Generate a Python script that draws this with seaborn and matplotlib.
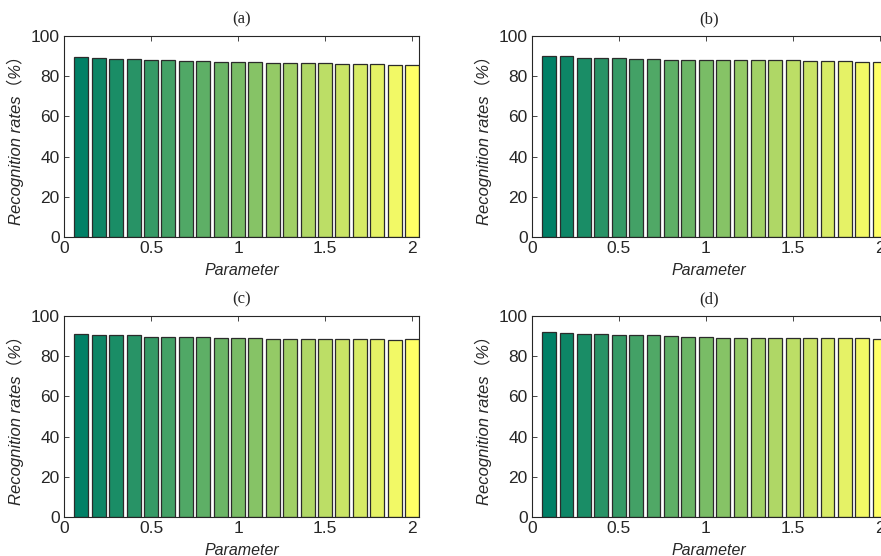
import numpy as np
import pandas as pd
import matplotlib
matplotlib.use("Agg")
import matplotlib.pyplot as plt
import seaborn as sns

params = [round(0.1 * i, 1) for i in range(1, 21)]
rates_a = [89.6, 89.1, 88.8, 88.6, 88.3, 88.3, 87.8, 87.6, 87.3, 87.3,
           87.1, 86.8, 86.8, 86.6, 86.4, 86.1, 86.1, 86.1, 85.8, 85.6]
rates_b = [90.2, 89.9, 89.3, 88.9, 88.9, 88.8, 88.4, 88.3, 88.3, 88.1,
           88.3, 88.3, 88.3, 88.3, 87.9, 87.8, 87.6, 87.6, 87.3, 87.3]
rates_c = [91.1, 90.7, 90.3, 90.3, 89.8, 89.8, 89.6, 89.4, 89.1, 89.3,
           88.9, 88.8, 88.8, 88.8, 88.6, 88.6, 88.6, 88.4, 88.3, 88.4]
rates_d = [91.9, 91.4, 91.2, 90.9, 90.6, 90.3, 90.3, 89.9, 89.8, 89.6,
           89.3, 89.3, 89.3, 89.3, 89.1, 88.9, 89.1, 88.9, 88.9, 88.8]
titles = ["(a)", "(b)", "(c)", "(d)"]
xticks = [0, 0.5, 1, 1.5, 2]
xticklabels = ["0", "0.5", "1", "1.5", "2"]
yticks = [0, 20, 40, 60, 80, 100]

sns.set_style("ticks")
plt.rcParams["font.family"] = ["Liberation Sans", "DejaVu Sans"]

W, H = 881, 556
fig = plt.figure(figsize=(W / 100, H / 100), dpi=100)

aw, ah = 355 / W, 201 / H
positions = [
    (64 / W, 1 - 237 / H, aw, ah),
    (531.7 / W, 1 - 237 / H, aw, ah),
    (64 / W, 1 - 517 / H, aw, ah),
    (531.7 / W, 1 - 517 / H, aw, ah),
]
series = [rates_a, rates_b, rates_c, rates_d]
colors = [plt.cm.summer(v) for v in np.linspace(0, 1, len(params))]

for pos, vals, title in zip(positions, series, titles):
    ax = fig.add_axes(pos)
    df = pd.DataFrame({"Parameter": params, "rate": vals,
                       "level": [str(p) for p in params]})
    sns.barplot(data=df, x="Parameter", y="rate", hue="level",
                palette=colors, native_scale=True, legend=False,
                width=0.8, edgecolor="#2b2b2b", linewidth=0.9, ax=ax,
                errorbar=None, saturation=1)
    ax.set_xlim(0, 2.04)
    ax.set_ylim(0, 100)
    ax.set_xticks(xticks)
    ax.set_xticklabels(xticklabels)
    ax.set_yticks(yticks)
    ax.tick_params(direction="in", length=3.5, width=0.6, top=True, right=True,
                   labelsize=12.5, colors="#262626", pad=3)
    for s in ax.spines.values():
        s.set_visible(True)
        s.set_color("#262626")
        s.set_linewidth(0.8)
    ax.set_xlabel("Parameter", fontsize=11.5, style="italic", labelpad=5,
                  color="#262626")
    ax.set_ylabel("Recognition rates（%）", fontsize=12, style="italic",
                  family=["Liberation Sans", "Noto Sans CJK SC"],
                  labelpad=5, color="#262626")
    ax.set_title(title, fontsize=12, family=["Liberation Serif"], pad=9)

fig.savefig("out.png", dpi=100)
